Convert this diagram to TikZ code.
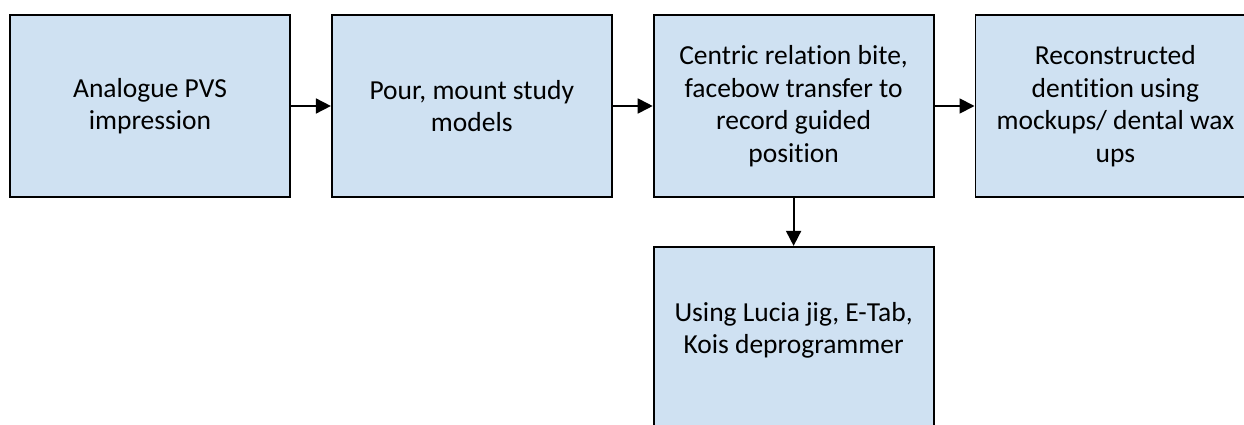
\documentclass[tikz,border=0pt]{standalone}
\usepackage{fontspec}
\setmainfont{Carlito}[Ligatures=NoCommon]
\usetikzlibrary{arrows.meta,positioning}
\definecolor{boxblue}{RGB}{207,225,242}

\begin{document}
\begin{tikzpicture}[x=1pt,y=1pt,
block/.style={rectangle,draw,line width=1.8pt,fill=boxblue,
minimum width=280pt,minimum height=182pt,inner sep=0pt,
align=center,font=\fontsize{27.5}{32.5}\selectfont,anchor=center},
flow/.style={line width=1.8pt,-{Triangle[length=15pt,width=15pt]}},
]
\useasboundingbox (0,0) rectangle (1244,424);
\clip (0,0) rectangle (1244,424);
\node[block] (impr) at (150,318) {Analogue PVS\\impression};
\node[block, right=40pt of impr] (pour) {Pour, mount study\\models};
\node[block, right=40pt of pour] (bite) {Centric relation bite,\\facebow transfer to\\record guided\\position};
\node[block, right=40pt of bite] (wax) {Reconstructed\\dentition using\\mockups/ dental wax\\ups};
\node[block, below=48pt of bite, text depth=20pt] (jig) {Using Lucia jig, E-Tab,\\Kois deprogrammer};
\draw[flow] (impr.east) -- (pour.west);
\draw[flow] (pour.east) -- (bite.west);
\draw[flow] (bite.east) -- (wax.west);
\draw[flow] (bite.south) -- (jig.north);
\end{tikzpicture}
\end{document}
